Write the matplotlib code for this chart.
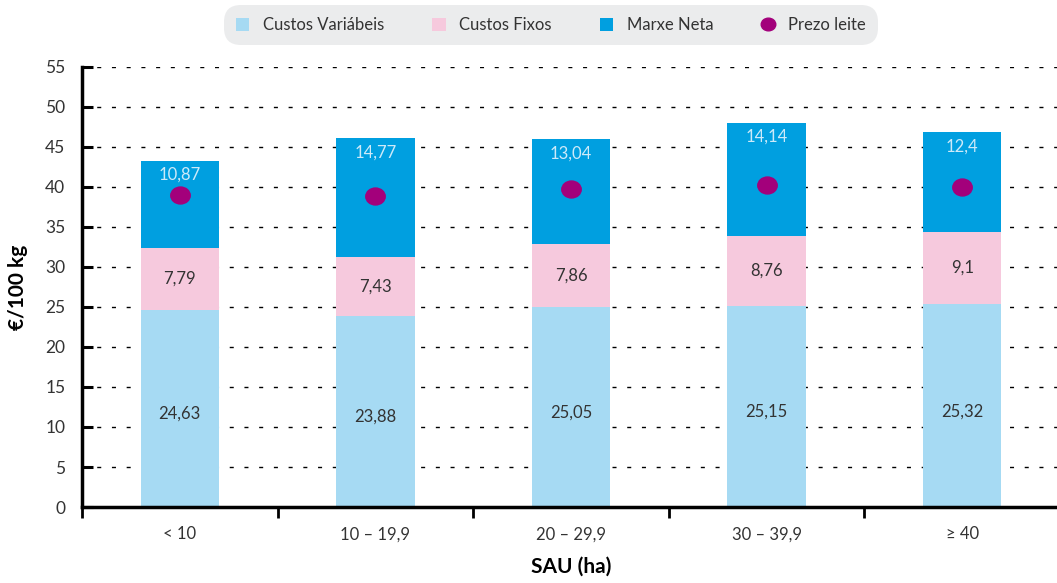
import numpy as np
from matplotlib import pyplot as plt
from matplotlib.path import Path
from matplotlib.transforms import Affine2D

plt.rcParams['font.family'] = ['Lato', 'DejaVu Sans']

categories = ['< 10', '10 – 19,9', '20 – 29,9', '30 – 39,9', '≥ 40']
custos_variabeis = [24.63, 23.88, 25.05, 25.15, 25.32]
custos_fixos = [7.79, 7.43, 7.86, 8.76, 9.1]
marxe_neta = [10.87, 14.77, 13.04, 14.14, 12.4]
prezo_leite = [39.0, 38.9, 39.8, 40.2, 40.0]

COL_VAR = '#a6daf3'
COL_FIX = '#f6c9dd'
COL_NET = '#009fe0'
COL_DOT = '#a3007b'
TXT = '#333333'


def fmt(v):
    return ('%g' % v).replace('.', ',')


fig = plt.figure(figsize=(10.57, 5.83), dpi=100)
ax = fig.add_axes([82 / 1057, 1 - 507 / 583, (1060 - 82) / 1057, 440 / 583])

x = np.arange(len(categories))
w = 0.4
var = np.array(custos_variabeis)
fix = np.array(custos_fixos)
net = np.array(marxe_neta)

ax.bar(x, var, w, color=COL_VAR, label='Custos Variábeis', zorder=2)
ax.bar(x, fix, w, bottom=var, color=COL_FIX, label='Custos Fixos', zorder=2)
ax.bar(x, net, w, bottom=var + fix, color=COL_NET, label='Marxe Neta', zorder=2)

# slightly flattened dot
ellipse = Path.unit_circle().transformed(Affine2D().scale(1.0, 0.87))
ax.plot(x, prezo_leite, linestyle='none', marker=ellipse, markersize=14,
        color=COL_DOT, label='Prezo leite', zorder=3)

for i in range(len(x)):
    ax.text(x[i], var[i] / 2 - 0.7, fmt(var[i]), ha='center', va='center',
            fontsize=12, color=TXT, zorder=4)
    ax.text(x[i], var[i] + fix[i] / 2, fmt(fix[i]), ha='center', va='center',
            fontsize=12, color=TXT, zorder=4)
    ax.text(x[i], var[i] + fix[i] + net[i] - 1.8, fmt(net[i]), ha='center',
            va='center', fontsize=12, color='#cdeaf9', zorder=4)

ax.set_xlim(-0.5, len(x) - 0.5)
ax.set_ylim(0, 55)
ax.set_yticks(np.arange(0, 56, 5))
ax.set_xticks(x)
ax.set_xticklabels(categories)
ax.set_xticks(np.arange(-0.5, len(x)), minor=True)
ax.tick_params(axis='x', which='major', length=0, pad=14, labelsize=12,
               labelcolor=TXT)
ax.tick_params(axis='x', which='minor', length=8, width=2, direction='out')
ax.tick_params(axis='y', length=8, width=2.2, direction='in', labelsize=12.5,
               labelcolor=TXT, pad=12)

for y in range(5, 56, 5):
    ax.axhline(y, color='black', linestyle=(0, (2.9, 7.7)), linewidth=1.0, zorder=1)

for s in ['top', 'right']:
    ax.spines[s].set_visible(False)
ax.spines['left'].set_linewidth(2.5)
ax.spines['bottom'].set_linewidth(2.5)
ax.spines['left'].set_zorder(5)
ax.spines['bottom'].set_zorder(5)

ax.set_ylabel('€/100 kg', fontsize=15, fontweight='bold', labelpad=12)
ax.set_xlabel('SAU (ha)', fontsize=15, fontweight='bold', labelpad=10)

handles, labels = ax.get_legend_handles_labels()
order = [1, 2, 3, 0]
leg = fig.legend([handles[k] for k in order], [labels[k] for k in order],
                 loc='center', bbox_to_anchor=(551 / 1057, 1 - 25 / 583),
                 ncol=4, frameon=True, fancybox=True, facecolor='#ebeced',
                 edgecolor='none', framealpha=1, fontsize=12, handlelength=0.8,
                 handleheight=0.8, columnspacing=2.9, handletextpad=0.8,
                 borderpad=0.7, markerscale=0.75)
leg.get_frame().set_boxstyle('round,pad=0,rounding_size=1.0')
for t in leg.get_texts():
    t.set_color(TXT)

fig.savefig('out.png', dpi=100)
